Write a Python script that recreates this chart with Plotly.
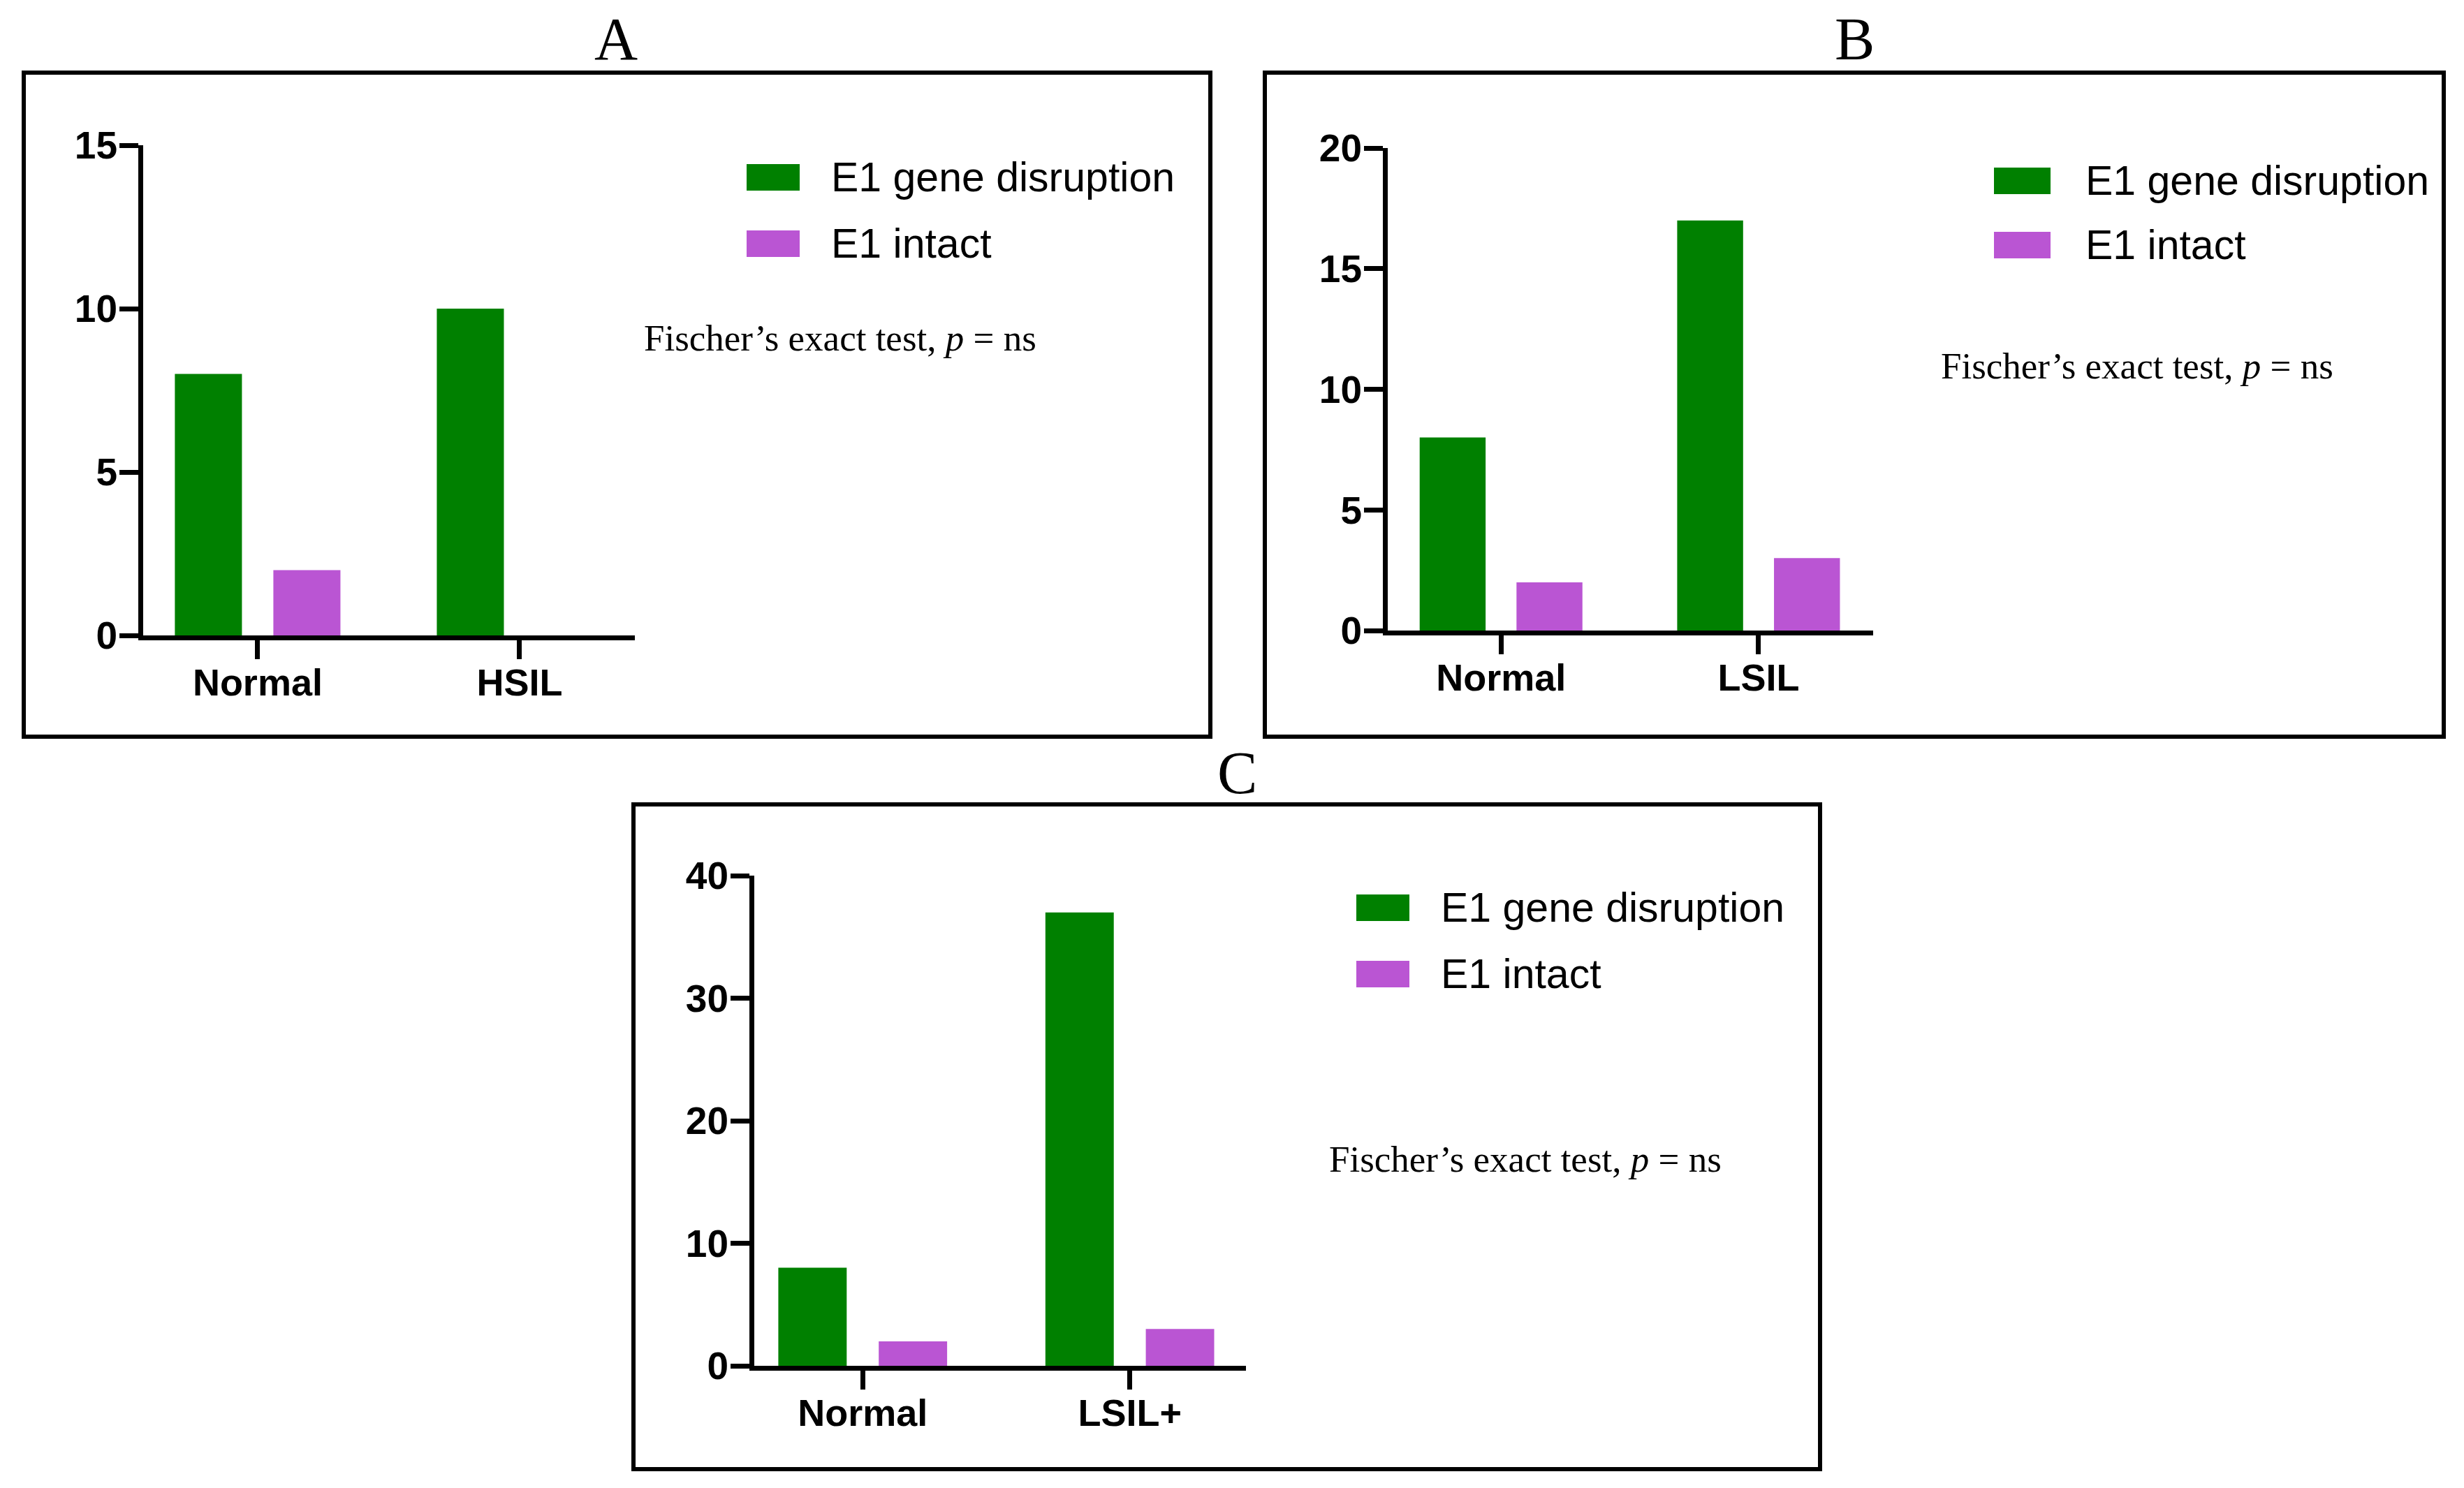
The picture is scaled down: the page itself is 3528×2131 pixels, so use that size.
import plotly.graph_objects as go

# data
panel_labels = ["A", "B", "C"]
series_names = ["E1 gene disruption", "E1 intact"]
series_colors = ["#008000", "#BA55D3"]

categories_a = ["Normal", "HSIL"]
disruption_a = [8, 10]
intact_a = [2, 0]
yticks_a = [0, 5, 10, 15]

categories_b = ["Normal", "LSIL"]
disruption_b = [8, 17]
intact_b = [2, 3]
yticks_b = [0, 5, 10, 15, 20]

categories_c = ["Normal", "LSIL+"]
disruption_c = [8, 37]
intact_c = [2, 3]
yticks_c = [0, 10, 20, 30, 40]

test_note = "Fischer’s exact test, <i>p</i> = ns"

W, H = 3528, 2131


def fx(x):
    return x / W


def fy(y):
    return 1 - y / H


# panel geometry in pixels (box, plot area, x range, legend, note, title)
panels = [
    dict(cats=categories_a, vals=[disruption_a, intact_a], ticks=yticks_a,
         box=(34, 104, 1733, 1055), plot=(205, 208, 909, 910), xr=(-0.437, 1.44),
         leg_x=(1069, 1145), leg_y=(254, 349), leg_tx=1188, note=(920, 484), title=(882, 56)),
    dict(cats=categories_b, vals=[disruption_b, intact_b], ticks=yticks_b,
         box=(1811, 104, 3499, 1055), plot=(1987, 212, 2682, 903), xr=(-0.44, 1.445),
         leg_x=(2855, 2936), leg_y=(259, 351), leg_tx=2984, note=(2777, 524), title=(2655, 56)),
    dict(cats=categories_c, vals=[disruption_c, intact_c], ticks=yticks_c,
         box=(907, 1152, 2606, 2104), plot=(1080, 1254, 1784, 1956), xr=(-0.406, 1.435),
         leg_x=(1942, 2018), leg_y=(1300, 1395), leg_tx=2061, note=(1901, 1660), title=(1771, 1107)),
]

fig = go.Figure()
shapes = []
annotations = []
layout_axes = {}

for i, p in enumerate(panels):
    n = "" if i == 0 else str(i + 1)
    for s, name in enumerate(series_names):
        fig.add_trace(go.Bar(
            x=p["cats"], y=p["vals"][s], name=name,
            marker=dict(color=series_colors[s], line=dict(width=0)),
            xaxis="x" + n, yaxis="y" + n, showlegend=False,
            offsetgroup=str(s),
        ))

    x0, y0, x1, y1 = p["plot"]
    ymax = p["ticks"][-1]
    layout_axes["xaxis" + n] = dict(
        domain=[fx(x0), fx(x1)], anchor="y" + n, type="category",
        range=list(p["xr"]), showline=True, linewidth=7, linecolor="black",
        ticks="outside", ticklen=27, tickwidth=7, tickcolor="black",
        showgrid=False, zeroline=False, ticklabelstandoff=-13, automargin=False,
        tickfont=dict(family="Liberation Sans", size=54, color="black", weight="bold"),
    )
    layout_axes["yaxis" + n] = dict(
        domain=[fy(y1), fy(y0)], anchor="x" + n,
        range=[0, ymax], tickvals=p["ticks"], showline=True, linewidth=7,
        linecolor="black", ticks="outside", ticklen=27, tickwidth=7,
        tickcolor="black", showgrid=False, zeroline=False, automargin=False,
        ticklabelstandoff=-8,
        tickfont=dict(family="Liberation Sans", size=55, color="black", weight="bold"),
    )

    bx0, by0, bx1, by1 = p["box"]
    shapes.append(dict(type="rect", xref="paper", yref="paper",
                       x0=fx(bx0), x1=fx(bx1), y0=fy(by1), y1=fy(by0),
                       line=dict(color="black", width=6)))

    lx0, lx1 = p["leg_x"]
    for s, name in enumerate(series_names):
        cy = p["leg_y"][s]
        shapes.append(dict(type="rect", xref="paper", yref="paper",
                           x0=fx(lx0), x1=fx(lx1), y0=fy(cy + 19), y1=fy(cy - 19),
                           fillcolor=series_colors[s], line=dict(width=0)))
        annotations.append(dict(xref="paper", yref="paper", x=fx(p["leg_tx"]), y=fy(cy),
                                text=name, showarrow=False, xanchor="left", yanchor="middle",
                                font=dict(family="Liberation Sans", size=59, color="black")))

    annotations.append(dict(xref="paper", yref="paper", x=fx(p["note"][0]), y=fy(p["note"][1]),
                            text=test_note, showarrow=False, xanchor="left", yanchor="middle",
                            font=dict(family="Liberation Serif", size=53, color="black")))
    annotations.append(dict(xref="paper", yref="paper", x=fx(p["title"][0]), y=fy(p["title"][1]),
                            text=panel_labels[i], showarrow=False, xanchor="center", yanchor="middle",
                            font=dict(family="Liberation Serif", size=86, color="black")))

fig.update_layout(
    width=W, height=H, margin=dict(l=0, r=0, t=0, b=0, autoexpand=False),
    paper_bgcolor="white", plot_bgcolor="white",
    barmode="group", bargap=0.248, bargroupgap=0.319,
    shapes=shapes, annotations=annotations, showlegend=False,
    **layout_axes,
)

fig.write_html("out.html", config={"displayModeBar": False},
               post_script="document.body.style.margin='0';")
